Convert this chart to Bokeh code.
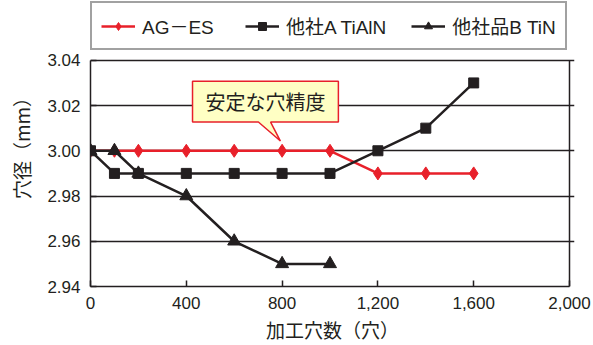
from bokeh.plotting import figure
from bokeh.models import Range1d, FixedTicker, NumeralTickFormatter, Legend, LegendItem
from bokeh.core.properties import value
from bokeh.embed import file_html
from bokeh.resources import INLINE

# ---- data ----
holes = [0, 100, 200, 400, 600, 800, 1000, 1200, 1400, 1600]
ag_es = [3.00, 3.00, 3.00, 3.00, 3.00, 3.00, 3.00, 2.99, 2.99, 2.99]
a_holes = [0, 100, 200, 400, 600, 800, 1000, 1200, 1400, 1600]
a_tialn = [3.00, 2.99, 2.99, 2.99, 2.99, 2.99, 2.99, 3.00, 3.01, 3.03]
b_holes = [0, 100, 200, 400, 600, 800, 1000]
b_tin = [3.00, 3.00, 2.99, 2.98, 2.96, 2.95, 2.95]
series_names = ["AG－ES", "他社A TiAlN", "他社品B TiN"]
x_ticks = [0, 400, 800, 1200, 1600, 2000]
y_ticks = [2.94, 2.96, 2.98, 3.00, 3.02, 3.04]
y_min, y_max = 2.94, 3.04
x_min, x_max = 0, 2000
callout_text = "安定な穴精度"
x_label = "加工穴数（穴）"
y_label = "穴径（mm）"

# callout geometry (data coordinates)
call_x = [426, 1035, 1035, 752, 793, 701, 426]
call_y = [3.0307, 3.0307, 3.0127, 3.0127, 3.0043, 3.0127, 3.0127]
call_tx, call_ty = 731, 3.0219

RED = "#e8202a"
BLK = "#231f20"
LAT = "'Liberation Sans', 'Noto Sans CJK JP'"
JP = "'Noto Sans CJK JP'"

# plotting box: 479 x 227 px; frame extends past it (top and right) so the legend is not clipped
box_w, box_h = 479, 227
top_extra = 60 / box_h * (y_max - y_min)
right_extra = 5 / box_w * (x_max - x_min)
p = figure(width=593, height=345, output_backend="svg", toolbar_location=None,
           x_range=Range1d(x_min, x_max + right_extra), y_range=Range1d(y_min, y_max + top_extra),
           min_border_left=90, min_border_right=19, min_border_top=0, min_border_bottom=58)
p.background_fill_color = "white"
p.border_fill_color = "white"
p.outline_line_color = None

# axes
p.xaxis.ticker = FixedTicker(ticks=x_ticks)
p.yaxis.ticker = FixedTicker(ticks=y_ticks)
p.xaxis.formatter = NumeralTickFormatter(format="0,0")
p.yaxis.formatter = NumeralTickFormatter(format="0.00")
p.yaxis.bounds = (y_min, y_max)
p.xaxis.bounds = (x_min, x_max)
for ax in (p.xaxis, p.yaxis):
    ax.major_tick_in = 6
    ax.major_tick_out = 0
    ax.minor_tick_in = 0
    ax.minor_tick_out = 0
    ax.axis_line_color = BLK
    ax.axis_line_width = 1.5
    ax.major_tick_line_color = BLK
    ax.major_tick_line_width = 1.5
    ax.major_label_text_font = LAT
    ax.major_label_text_font_size = "17px"
    ax.major_label_text_color = BLK
    ax.axis_label_text_font = JP
    ax.axis_label_text_font_size = "19px"
    ax.axis_label_text_font_style = "normal"
    ax.axis_label_text_color = BLK
    ax.major_label_standoff = 10
p.xaxis.axis_label = x_label
p.yaxis.axis_label = y_label
p.xaxis.axis_label_standoff = 4
p.yaxis.axis_label_standoff = 9

p.xgrid.visible = False
p.ygrid.ticker = FixedTicker(ticks=y_ticks)
p.ygrid.bounds = (x_min, x_max)
p.ygrid.grid_line_color = BLK
p.ygrid.grid_line_width = 1.3

# right border of the plotting box
p.segment(x0=[x_max], y0=[y_min], x1=[x_max], y1=[y_max], line_color=BLK, line_width=1.5)

# callout
p.patch(call_x, call_y, fill_color="#ffffc4", line_color=RED, line_width=1.5)
p.text([call_tx], [call_ty], text=[callout_text], text_font=value("Noto Sans CJK JP"),
       text_font_size="20px", text_align="center", text_baseline="middle", text_color=BLK)

# series
r1l = p.line(holes, ag_es, line_color=RED, line_width=2.5)
r1m = p.scatter(holes, ag_es, marker="diamond", size=13, fill_color=RED, line_color=RED)
r2l = p.line(a_holes, a_tialn, line_color=BLK, line_width=2.5)
r2m = p.scatter(a_holes, a_tialn, marker="square", size=10, fill_color=BLK, line_color=BLK)
r3l = p.line(b_holes, b_tin, line_color=BLK, line_width=2.5)
r3m = p.scatter(b_holes, b_tin, marker="triangle", size=13, fill_color=BLK, line_color=BLK)

legend = Legend(items=[LegendItem(label=series_names[0], renderers=[r1l, r1m]),
                       LegendItem(label=series_names[1], renderers=[r2l, r2m]),
                       LegendItem(label=series_names[2], renderers=[r3l, r3m])],
                orientation="horizontal", location=(0, 236),
                glyph_width=34, glyph_height=20, label_standoff=7, spacing=25,
                label_width=78, padding=9, margin=0,
                label_text_font=LAT, label_text_font_size="19px", label_text_color=BLK,
                border_line_color="#444444", border_line_width=2,
                background_fill_color="white", background_fill_alpha=1.0)
p.add_layout(legend, "center")

open("out.html", "w").write(file_html(p, INLINE))
